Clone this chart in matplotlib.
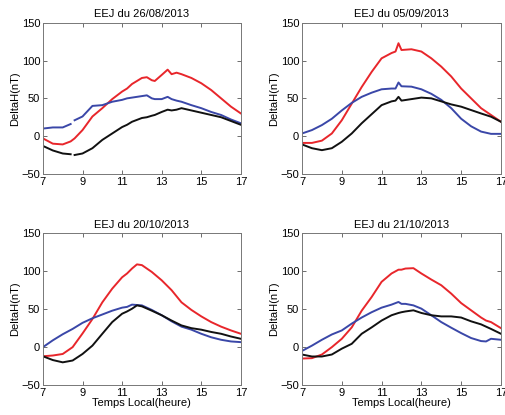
import numpy as np
import matplotlib
matplotlib.use("Agg")
import matplotlib.pyplot as plt

plt.rcParams["font.family"] = ["Liberation Sans", "DejaVu Sans"]

# --- panel 1 : 26/08/2013 (NaN marks the data gap near 8.5 h) ---
t1 = [7, 7.5, 8, 8.4, 8.5, 8.6, 9, 9.5, 10, 10.5, 11, 11.25, 11.5, 12, 12.25,
      12.5, 12.65, 13, 13.3, 13.5, 13.75, 14, 14.5, 15, 15.5, 16, 16.5, 17]
red1 = [-3, -10, -11, -7, -5, -3, 8, 26, 37, 49, 59, 63, 69, 77, 78,
        74, 73, 81, 88, 82, 84, 82, 77, 70, 61, 50, 39, 30]
blue1 = [10, 11.5, 11.5, 16, np.nan, 21, 26, 40, 41, 45.5, 48, 50, 51, 53, 54,
         50, 49, 49, 52, 49, 47, 45.5, 41, 37, 32, 28, 22, 17]
black1 = [-13, -19, -23, -24, np.nan, -25, -23, -16, -5, 3.5, 12, 15, 19, 24, 25,
          27, 28, 32, 35, 34, 35, 37, 34, 31, 28, 25, 20, 15]

# --- panel 2 : 05/09/2013 ---
t2 = [7, 7.5, 8, 8.5, 9, 9.5, 10, 10.5, 11, 11.5, 11.7, 11.85, 12, 12.5,
      13, 13.5, 14, 14.5, 15, 15.5, 16, 16.5, 17]
red2 = [-9, -9, -6, 3.5, 21, 43, 65, 85, 103, 110, 112, 123, 114, 115,
        112, 103, 92, 79, 63, 50, 37, 28, 19]
blue2 = [3.5, 8, 14.6, 23, 34, 44, 52, 57.5, 62, 63, 63, 71, 66, 65.5,
         62, 56, 48, 37, 23, 13, 6, 3, 3]
black2 = [-11, -16, -18.6, -16, -7.5, 3.5, 17, 29, 41, 46, 47, 52, 47, 49,
          51, 50, 46, 42, 39, 34.5, 30, 25.7, 19]

# --- panel 3 : 20/10/2013 ---
t3 = [7, 7.5, 8, 8.5, 9, 9.5, 10, 10.5, 11, 11.25, 11.5, 11.75, 12, 12.5,
      13, 13.5, 14, 14.5, 15, 15.5, 16, 16.5, 17]
red3 = [-12, -11, -9, 0, 18, 37, 59, 77, 92, 97, 103.5, 109, 108, 99,
        88, 75, 59, 49, 40.5, 33, 27, 22, 17.6]
blue3 = [0, 9, 17, 24, 32, 38, 43, 48, 52, 53, 56, 55.5, 55, 49,
         42, 34, 27, 23, 17.6, 13, 9.7, 7.5, 6.6]
black3 = [-12, -17, -20, -17.6, -9, 2, 17.6, 33, 44, 47, 50.6, 55, 53.7, 48,
          42, 35, 28.6, 25, 23, 20, 17.6, 14, 11]

# --- panel 4 : 21/10/2013 ---
t4 = [7, 7.5, 8, 8.5, 9, 9.5, 10, 10.5, 11, 11.5, 11.85, 12, 12.2, 12.6,
      13, 13.5, 14, 14.5, 15, 15.5, 16, 16.25, 16.5, 17]
red4 = [-15, -14.5, -9.7, 0, 11, 26, 48, 66, 86, 97, 102, 102, 103.5, 104,
        97, 89, 81.5, 70.5, 58, 48.5, 39, 35, 33, 25]
blue4 = [-5, 2, 9.7, 16.7, 22, 31, 39, 46, 52, 56, 59.5, 57, 57, 55,
         50.7, 42, 33, 25.6, 18.5, 12, 8, 7.5, 11, 9.7]
black4 = [-9.7, -12.3, -12.3, -9.7, -2, 4.4, 17.6, 26, 35, 42, 45, 46, 47, 48.5,
          45, 42, 40.5, 40.5, 39, 34, 30, 27, 24, 17.6]

titles = ["EEJ du 26/08/2013", "EEJ du 05/09/2013",
          "EEJ du 20/10/2013", "EEJ du 21/10/2013"]
panels = [
    (t1, red1, blue1, black1),
    (t2, red2, blue2, black2),
    (t3, red3, blue3, black3),
    (t4, red4, blue4, black4),
]

RED = "#e8262b"
BLUE = "#3a47a8"
BLACK = "#111111"
FS = 8

fig = plt.figure(figsize=(5.05, 4.15), dpi=100)
boxes = [
    [0.085, 0.581, 0.392, 0.364],
    [0.598, 0.581, 0.394, 0.364],
    [0.085, 0.072, 0.392, 0.366],
    [0.598, 0.072, 0.394, 0.366],
]

for i, (box, (t, r, b, k)) in enumerate(zip(boxes, panels)):
    ax = fig.add_axes(box)
    ax.plot(t, r, color=RED, lw=1.4)
    ax.plot(t, b, color=BLUE, lw=1.4)
    ax.plot(t, k, color=BLACK, lw=1.4)
    ax.set_xlim(7, 17)
    ax.set_ylim(-50, 150)
    ax.set_xticks([7, 9, 11, 13, 15, 17])
    ax.set_yticks([-50, 0, 50, 100, 150])
    ax.tick_params(direction="in", length=3, width=0.6, labelsize=FS,
                   top=True, right=True, pad=2, color="#555555")
    for s in ax.spines.values():
        s.set_color("#777777")
        s.set_linewidth(0.7)
    ax.set_title(titles[i], fontsize=FS, pad=4)
    ax.set_ylabel("DeltaH(nT)", fontsize=FS, labelpad=1)
    if i >= 2:
        ax.set_xlabel("Temps Local(heure)", fontsize=FS, labelpad=0)

fig.savefig("out.png", dpi=100)
